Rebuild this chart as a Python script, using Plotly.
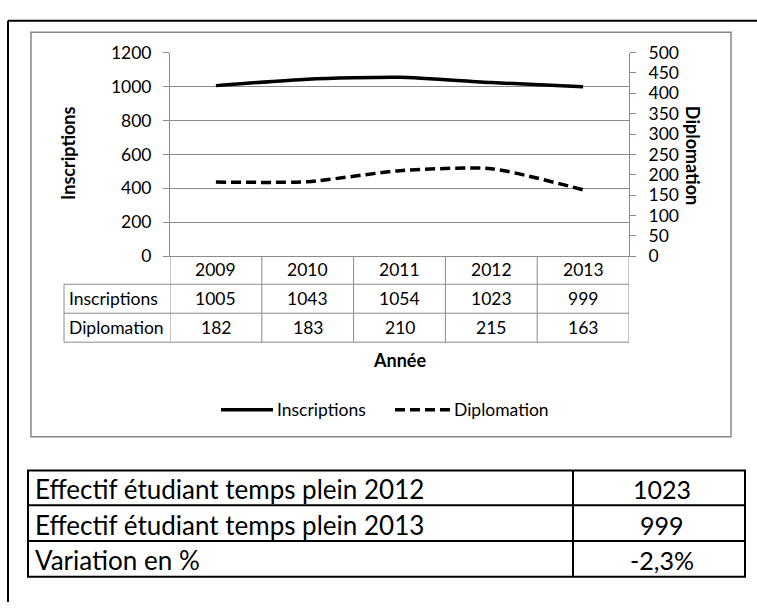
import plotly.graph_objects as go

# ---------------- data ----------------
years = ["2009", "2010", "2011", "2012", "2013"]
inscriptions = [1005, 1043, 1054, 1023, 999]
diplomation = [182, 183, 210, 215, 163]
series_names = ["Inscriptions", "Diplomation"]
left_ticks = [0, 200, 400, 600, 800, 1000, 1200]
right_ticks = [0, 50, 100, 150, 200, 250, 300, 350, 400, 450, 500]
x_title = "Année"
summary_labels = ["Effectif étudiant temps plein 2012",
                  "Effectif étudiant temps plein 2013",
                  "Variation en %"]
summary_values = ["1023", "999", "-2,3%"]

# ---------------- geometry helpers ----------------
W, H = 757, 610
def X(px):
    return px / W
def Y(py):
    return 1 - py / H

FONT = "Lato"
GRID = "#8a8a8a"
DASH = "10px,5px"

fig = go.Figure()
fig.add_trace(go.Scatter(
    x=years, y=inscriptions, name=series_names[0], mode="lines",
    line=dict(color="black", width=3.5, shape="spline", smoothing=0.6),
    yaxis="y", showlegend=False, hoverinfo="x+y+name"))
fig.add_trace(go.Scatter(
    x=years, y=diplomation, name=series_names[1], mode="lines",
    line=dict(color="black", width=3.5, dash=DASH, shape="spline", smoothing=0.6),
    yaxis="y2", showlegend=False, hoverinfo="x+y+name"))

shapes = []
annotations = []

def hline(x0, x1, y, color=GRID, width=1):
    shapes.append(dict(type="line", xref="paper", yref="paper",
                       x0=X(x0), x1=X(x1), y0=Y(y), y1=Y(y),
                       line=dict(color=color, width=width)))

def vline(x, y0, y1, color=GRID, width=1):
    shapes.append(dict(type="line", xref="paper", yref="paper",
                       x0=X(x), x1=X(x), y0=Y(y0), y1=Y(y1),
                       line=dict(color=color, width=width)))

# outer black frame (left and top visible)
vline(8, 10, 612, color="black", width=2)
hline(8, 760, 10, color="black", width=2)

# chart area gray frame
shapes.append(dict(type="rect", xref="paper", yref="paper",
                   x0=X(31), x1=X(731), y0=Y(441), y1=Y(22),
                   line=dict(color="#868686", width=1.5)))

# data table below the axis
for yy in (283, 313, 343):
    hline(64, 629, yy)
vline(64, 283, 343)
for i in range(len(years) + 1):
    shapes.append(dict(type="line", xref="x", yref="paper",
                       x0=i - 0.5, x1=i - 0.5, y0=Y(254), y1=Y(343),
                       line=dict(color=GRID, width=1)))

tfont = dict(family=FONT, size=17.5, color="black")
for i, yr in enumerate(years):
    annotations.append(dict(x=i, xref="x", y=Y(268), yref="paper", text=yr,
                            showarrow=False, font=tfont, xanchor="center", yanchor="middle"))
    annotations.append(dict(x=i, xref="x", y=Y(298), yref="paper", text=str(inscriptions[i]),
                            showarrow=False, font=tfont, xanchor="center", yanchor="middle"))
    annotations.append(dict(x=i, xref="x", y=Y(328), yref="paper", text=str(diplomation[i]),
                            showarrow=False, font=tfont, xanchor="center", yanchor="middle"))
for name, yy in zip(series_names, (298, 328)):
    annotations.append(dict(x=X(67), xref="paper", y=Y(yy), yref="paper", text=name,
                            showarrow=False, font=tfont, xanchor="left", yanchor="middle"))

# axis titles
bfont = dict(family=FONT, size=18, color="black", weight="bold")
annotations.append(dict(x=X(68), y=Y(148), xref="paper", yref="paper", text=series_names[0],
                        textangle=-90, showarrow=False, font=bfont,
                        xanchor="center", yanchor="middle"))
annotations.append(dict(x=X(693), y=Y(149), xref="paper", yref="paper", text=series_names[1],
                        textangle=90, showarrow=False, font=bfont,
                        xanchor="center", yanchor="middle"))
annotations.append(dict(x=X(399), y=Y(361), xref="paper", yref="paper", text=x_title,
                        showarrow=False, font=bfont, xanchor="center", yanchor="middle"))

# legend
shapes.append(dict(type="line", xref="paper", yref="paper", x0=X(221), x1=X(273),
                   y0=Y(413), y1=Y(413), line=dict(color="black", width=3.5)))
annotations.append(dict(x=X(275), y=Y(413), xref="paper", yref="paper", text=series_names[0],
                        showarrow=False, font=tfont, xanchor="left", yanchor="middle"))
shapes.append(dict(type="line", xref="paper", yref="paper", x0=X(395), x1=X(451),
                   y0=Y(413), y1=Y(413), line=dict(color="black", width=3.5, dash=DASH)))
annotations.append(dict(x=X(452), y=Y(413), xref="paper", yref="paper", text=series_names[1],
                        showarrow=False, font=tfont, xanchor="left", yanchor="middle"))

# summary table
shapes.append(dict(type="rect", xref="paper", yref="paper",
                   x0=X(28), x1=X(745), y0=Y(586), y1=Y(476),
                   line=dict(color="black", width=2)))
hline(28, 745, 512, color="black", width=2)
hline(28, 745, 549, color="black", width=2)
vline(573, 476, 586, color="black", width=2)
sfont = dict(family=FONT, size=26, color="black")
vfont = dict(family=FONT, size=25, color="black")
for lab, val, yy in zip(summary_labels, summary_values, (495, 532, 569)):
    annotations.append(dict(x=X(33), y=Y(yy), xref="paper", yref="paper", text=lab,
                            showarrow=False, font=sfont, xanchor="left", yanchor="middle"))
    annotations.append(dict(x=X(662), y=Y(yy), xref="paper", yref="paper", text=val,
                            showarrow=False, font=vfont, xanchor="center", yanchor="middle"))

fig.update_layout(
    width=W, height=H,
    margin=dict(l=0, r=0, t=0, b=0),
    paper_bgcolor="white", plot_bgcolor="white",
    font=dict(family=FONT, size=17, color="black"),
    xaxis=dict(type="category", domain=[X(170), X(629)], range=[-0.5, 4.5],
               showticklabels=False, showgrid=False, zeroline=False,
               showline=True, linecolor=GRID, linewidth=1, ticks=""),
    yaxis=dict(domain=[Y(254), Y(43)], range=[0, 1200], tickvals=left_ticks,
               showgrid=True, gridcolor=GRID, gridwidth=1, zeroline=False,
               showline=True, linecolor=GRID, linewidth=1,
               ticks="outside", ticklen=6, tickcolor=GRID, tickwidth=1,
               ticklabelstandoff=8, tickfont=dict(family=FONT, size=17.5, color="black")),
    yaxis2=dict(overlaying="y", side="right", range=[0, 500], tickvals=right_ticks,
                showgrid=False, zeroline=False, showline=True, linecolor=GRID, linewidth=1,
                ticks="outside", ticklen=6, tickcolor=GRID, tickwidth=1,
                ticklabelstandoff=9, tickfont=dict(family=FONT, size=17.5, color="black")),
    shapes=shapes, annotations=annotations,
)

fig.write_html("out.html", config={"displayModeBar": False},
               post_script="document.body.style.margin='0';")
